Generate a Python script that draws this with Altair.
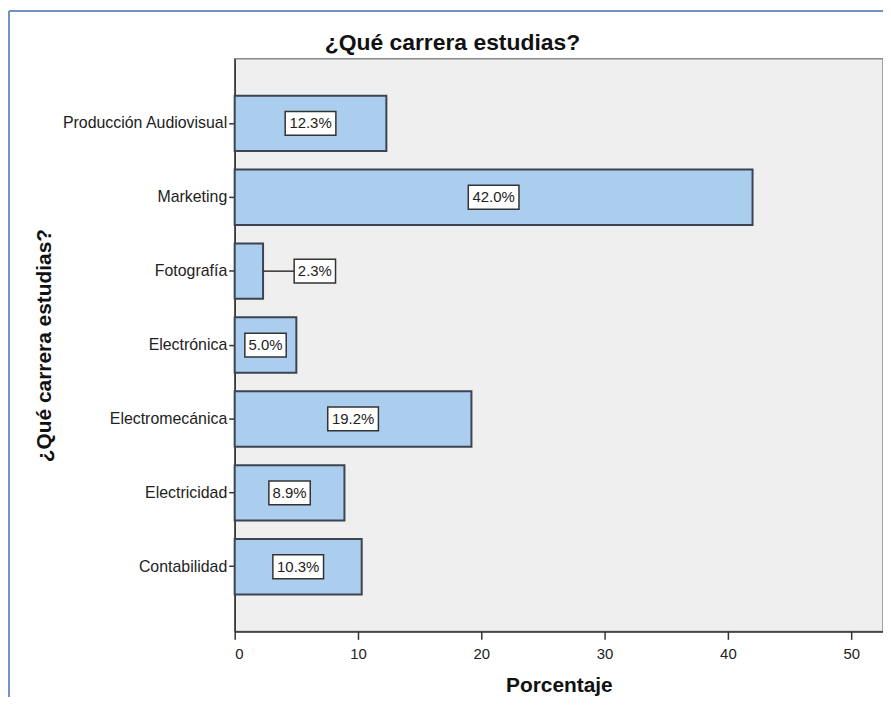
import altair as alt
import pandas as pd

carreras = ["Producción Audiovisual", "Marketing", "Fotografía", "Electrónica",
            "Electromecánica", "Electricidad", "Contabilidad"]
porcentajes = [12.3, 42.0, 2.3, 5.0, 19.2, 8.9, 10.3]
etiquetas = [f"{v:.1f}%" for v in porcentajes]
x_ticks = [0, 10, 20, 30, 40, 50]
titulo = "¿Qué carrera estudias?"

df = pd.DataFrame({"carrera": carreras, "pct": porcentajes, "label": etiquetas})

FONT = "Liberation Sans"
box4 = "M-0.80,-0.46L0.80,-0.46L0.80,0.46L-0.80,0.46Z"
box5 = "M-0.98,-0.46L0.98,-0.46L0.98,0.46L-0.98,0.46Z"

y_enc = alt.Y("carrera:N", sort=carreras,
              scale=alt.Scale(paddingInner=0.25, paddingOuter=0.5),
              axis=alt.Axis(title=titulo, titleFont=FONT, titleFontSize=21,
                            titleFontWeight="bold", titleColor="#111",
                            titleAngle=-90, titleX=-191, titleY=288,
                            titleAlign="center", titleBaseline="middle",
                            labelFont=FONT, labelFontSize=16, labelColor="#222",
                            labelPadding=2, tickSize=6, tickColor="#333", tickWidth=1.5,
                            domainColor="#333", domainWidth=1.5))
x_scale = alt.Scale(domain=[0, 52.58], nice=False, zero=True)

base = alt.Chart(df)

bars = base.mark_bar(fill="#abcdee", stroke="#3b4450", strokeWidth=2).encode(
    x=alt.X("pct:Q", scale=x_scale,
            axis=alt.Axis(values=x_ticks, grid=False, title="Porcentaje",
                          titleFont=FONT, titleFontSize=21, titleFontWeight="bold",
                          titleColor="#111", titleY=54, titleBaseline="middle",
                          labelFont=FONT, labelFontSize=15, labelColor="#222",
                          labelPadding=7, tickSize=8, tickColor="#333", tickWidth=1.5,
                          domainColor="#333", domainWidth=1.5)),
    y=y_enc,
)

lab = base.transform_calculate(
    lx="datum.pct < 3 ? datum.pct + 4.2 : datum.pct / 2",
    nch="toString(length(datum.label))",
    lx0="datum.lx - 1.66",
)

connector = lab.transform_filter("datum.pct < 3").mark_rule(color="#333", strokeWidth=1.5).encode(
    x=alt.X("pct:Q", scale=x_scale), x2="lx0:Q", y=alt.Y("carrera:N", sort=carreras))

boxes = lab.mark_point(filled=True, fill="white", stroke="#333", strokeWidth=1.5, opacity=1,
                       size=2704).encode(
    x=alt.X("lx:Q", scale=x_scale),
    y=alt.Y("carrera:N", sort=carreras),
    shape=alt.Shape("nch:N", scale=alt.Scale(domain=["4", "5"], range=[box4, box5]), legend=None),
)

texts = lab.mark_text(font=FONT, fontSize=15, color="#222").encode(
    x=alt.X("lx:Q", scale=x_scale),
    y=alt.Y("carrera:N", sort=carreras),
    text="label:N",
)

title_mark = alt.Chart(pd.DataFrame({"t": [titulo]})).mark_text(
    font=FONT, fontSize=23, fontWeight="bold", color="#111", baseline="middle", align="center"
).encode(x=alt.value(219), y=alt.value(-16), text="t:N")

frame_v = alt.Chart(df).mark_rule(color="#6f93c6", strokeWidth=2).encode(
    x=alt.value(-227), y=alt.value(-48), y2=alt.value(642))
frame_h = alt.Chart(df).mark_rule(color="#6f93c6", strokeWidth=2).encode(
    x=alt.value(-227), x2=alt.value(654), y=alt.value(-48))

chart = alt.layer(bars, connector, boxes, texts, title_mark, frame_v, frame_h).properties(
    width=652, height=576,
    padding={"left": 228, "top": 49, "right": 0, "bottom": 66},
    autosize=alt.AutoSizeParams(type="none"),
    background="white",
).configure_view(fill="#efefef", stroke="#888", strokeWidth=1.5)

chart.save("out.html", embed_options={"renderer": "svg", "actions": False})
